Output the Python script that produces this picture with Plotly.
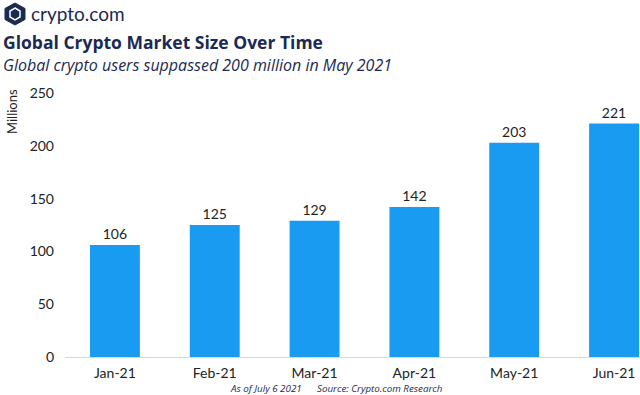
import plotly.graph_objects as go

months = ["Jan-21", "Feb-21", "Mar-21", "Apr-21", "May-21", "Jun-21"]
users = [106, 125, 129, 142, 203, 221]
y_ticks = [0, 50, 100, 150, 200, 250]

W, H = 640, 395
L, R, T, B = 65, 0, 93, 38
PW, PH = W - L - R, H - T - B

def px(x):
    return (x - L) / PW

def py(y):
    return (H - B - y) / PH

NAVY = "#1b2a52"
BLUE = "#1a9bf2"
FONT = "Lato, 'Open Sans', sans-serif"
TFONT = "'Open Sans', Lato, sans-serif"

fig = go.Figure()
fig.add_trace(go.Bar(
    x=months, y=users, marker=dict(color=BLUE, line=dict(width=0)),
    text=[str(v) for v in users], textposition="outside",
    textfont=dict(size=14, color="#222222", family=FONT),
    cliponaxis=False, width=0.5,
))

fig.update_layout(
    width=W, height=H,
    margin=dict(l=L, r=R, t=T, b=B),
    paper_bgcolor="white", plot_bgcolor="white",
    showlegend=False,
    font=dict(family=FONT, color="#333333"),
    xaxis=dict(range=[-0.5, 5.26], showgrid=False, showline=True,
               linecolor="#d9d9d9", linewidth=1, ticks="",
               ticklabelstandoff=3,
               tickfont=dict(size=14, color="#222222")),
    yaxis=dict(range=[0, 250], tickvals=y_ticks, showgrid=False,
               zeroline=False, showline=False, ticks="",
               ticklabelstandoff=10,
               tickfont=dict(size=14, color="#222222")),
)

# logo icon
hexpts = [(15, 3), (25, 8.5), (25, 19.5), (15, 25), (5, 19.5), (5, 8.5)]
path = "M " + " L ".join(f"{px(a):.5f},{py(b):.5f}" for a, b in hexpts) + " Z"
fig.add_shape(type="path", path=path, xref="paper", yref="paper",
              fillcolor=NAVY, line=dict(color=NAVY, width=1))
inner = [(15, 8), (20, 11), (20, 17), (15, 20), (10, 17), (10, 11)]
path2 = "M " + " L ".join(f"{px(a):.5f},{py(b):.5f}" for a, b in inner) + " Z"
fig.add_shape(type="path", path=path2, xref="paper", yref="paper",
              fillcolor=NAVY, line=dict(color="white", width=1.5))

ann = [
    dict(text="crypto.com", x=px(29), y=py(14), size=19, color=NAVY, family=FONT),
    dict(text="<b>Global Crypto Market Size Over Time</b>", x=px(1), y=py(42), size=17.5, color=NAVY, family=TFONT),
    dict(text="<i>Global crypto users suppassed 200 million in May 2021</i>", x=px(1), y=py(65), size=16, color=NAVY, family=TFONT),
]
for a in ann:
    fig.add_annotation(text=a["text"], x=a["x"], y=a["y"], xref="paper", yref="paper",
                       xanchor="left", yanchor="middle", showarrow=False,
                       font=dict(size=a["size"], color=a["color"], family=a["family"]))

fig.add_annotation(text="Millions", x=px(12), y=py(112), xref="paper", yref="paper",
                   textangle=-90, showarrow=False, xanchor="center", yanchor="middle",
                   font=dict(size=13, color="#222222", family=FONT))
fig.add_annotation(text="<i>As of July 6 2021&nbsp;&nbsp;&nbsp;&nbsp;&nbsp;&nbsp;Source: Crypto.com Research</i>",
                   x=px(336), y=py(388), xref="paper", yref="paper",
                   showarrow=False, xanchor="center", yanchor="middle",
                   font=dict(size=9.8, color=NAVY, family=TFONT))

fig.write_html("out.html", config={"displayModeBar": False},
               post_script="document.body.style.margin='0';document.body.style.padding='0';")
